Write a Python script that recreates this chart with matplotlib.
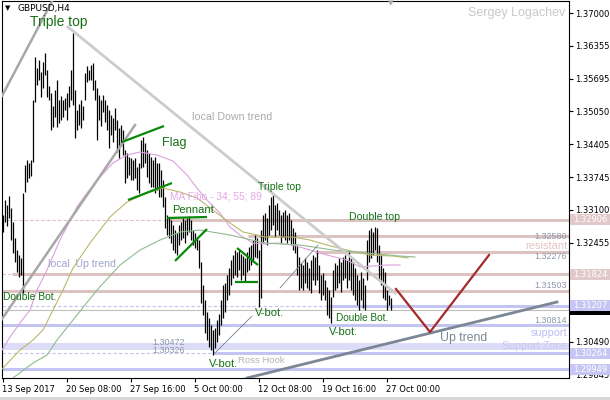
import matplotlib
matplotlib.use('Agg')
import matplotlib.pyplot as plt
from matplotlib.patches import Rectangle
from matplotlib.transforms import blended_transform_factory

plt.rcParams['font.family'] = ['Liberation Sans', 'DejaVu Sans']

# GBPUSD H4 bars, 13 Sep 2017 00:00 onwards (high / low)
high = [1.3300, 1.33297, 1.33198, 1.33376, 1.33139, 1.32861, 1.32545, 1.32307, 1.32208, 1.32149,
        1.33436, 1.3399, 1.34089, 1.3403, 1.34089, 1.35277, 1.36129, 1.35911, 1.36069, 1.35831,
        1.3603, 1.36208, 1.35871, 1.35554, 1.35416, 1.35158, 1.35475, 1.35673, 1.35277, 1.35356,
        1.35277, 1.35317, 1.35416, 1.35554, 1.35871, 1.3660, 1.35475, 1.35079, 1.35198, 1.35277,
        1.35158, 1.35812, 1.35951, 1.35871, 1.3597, 1.3601, 1.35673, 1.35515, 1.35376, 1.35277,
        1.35376, 1.35277, 1.35178, 1.35079, 1.3498, 1.34921, 1.35119, 1.34881, 1.34723, 1.34782,
        1.34683, 1.34287, 1.34228, 1.34149, 1.34129, 1.34089, 1.34129, 1.33951, 1.3403, 1.34485,
        1.34545, 1.34426, 1.34287, 1.34228, 1.34149, 1.34089, 1.34149, 1.3403, 1.3403, 1.33891,
        1.33693, 1.33357, 1.3300, 1.32941, 1.32901, 1.32802, 1.32703, 1.32644, 1.32802, 1.32861,
        1.32941, 1.32901, 1.32941, 1.3298, 1.32901, 1.32703, 1.32644, 1.32565, 1.32505, 1.32069,
        1.31614, 1.31317, 1.31079, 1.30961, 1.30822, 1.30723, 1.30763, 1.30921, 1.3104, 1.31317,
        1.31614, 1.31654, 1.31812, 1.31951, 1.32109, 1.32208, 1.32307, 1.32267, 1.32307, 1.32228,
        1.32188, 1.32149, 1.32267, 1.32367, 1.32406, 1.32505, 1.32604, 1.32545, 1.32307, 1.32703,
        1.3300, 1.3304, 1.32941, 1.33198, 1.33357, 1.33396, 1.33198, 1.33238, 1.33099, 1.3300,
        1.3306, 1.33099, 1.3300, 1.3304, 1.32901, 1.32743, 1.32664, 1.32406, 1.32169, 1.3205,
        1.3201, 1.32149, 1.32069, 1.31951, 1.32109, 1.32208, 1.32169, 1.32307, 1.3201, 1.31812,
        1.31852, 1.31713, 1.31575, 1.31515, 1.31377, 1.31911, 1.3205, 1.3201, 1.32149, 1.32069,
        1.32169, 1.32208, 1.32109, 1.32267, 1.32149, 1.32069, 1.31951, 1.31812, 1.31713, 1.31871,
        1.31753, 1.31614, 1.32505, 1.32703, 1.32743, 1.32664, 1.32763, 1.32743, 1.32406, 1.32208,
        1.31951, 1.31871, 1.31515, 1.31416, 1.31357]
low = [1.32663, 1.32861, 1.32782, 1.32941, 1.32505, 1.32248, 1.32069, 1.3187, 1.31773, 1.31812,
       1.31456, 1.33455, 1.33653, 1.33733, 1.33772, 1.3405, 1.35237, 1.35574, 1.35673, 1.35337,
       1.35515, 1.35772, 1.35337, 1.35277, 1.34683, 1.34743, 1.34941, 1.34743, 1.34822, 1.34881,
       1.34941, 1.35079, 1.34881, 1.35139, 1.35277, 1.35178, 1.34525, 1.34683, 1.34782, 1.34723,
       1.34881, 1.35277, 1.35634, 1.35673, 1.35673, 1.35475, 1.35277, 1.34485, 1.34881, 1.34762,
       1.3504, 1.34842, 1.34683, 1.34327, 1.34584, 1.34446, 1.34683, 1.34248, 1.34129, 1.34366,
       1.34188, 1.33634, 1.33733, 1.33792, 1.33693, 1.33693, 1.33733, 1.33495, 1.33436, 1.33931,
       1.33951, 1.3403, 1.33753, 1.33634, 1.33555, 1.33555, 1.33436, 1.33495, 1.33357, 1.33357,
       1.33159, 1.32743, 1.32604, 1.32545, 1.32446, 1.32307, 1.32248, 1.32208, 1.32406, 1.32505,
       1.32545, 1.32446, 1.32604, 1.32664, 1.32505, 1.32406, 1.32347, 1.32307, 1.3195, 1.31258,
       1.3102, 1.30664, 1.30525, 1.30387, 1.30327, 1.30228, 1.30367, 1.30486, 1.30624, 1.30822,
       1.30961, 1.31079, 1.31317, 1.31416, 1.31614, 1.31753, 1.31812, 1.31773, 1.31911, 1.31713,
       1.31812, 1.31674, 1.3187, 1.31911, 1.3201, 1.32069, 1.32169, 1.32149, 1.31179, 1.31357,
       1.32446, 1.32505, 1.32406, 1.32604, 1.32703, 1.32802, 1.32565, 1.32703, 1.32604, 1.32446,
       1.32565, 1.32505, 1.32446, 1.32505, 1.32406, 1.32307, 1.32248, 1.31812, 1.31515, 1.31555,
       1.31515, 1.31654, 1.31555, 1.31515, 1.31456, 1.31713, 1.31614, 1.31713, 1.31456, 1.31317,
       1.31416, 1.31317, 1.3102, 1.30961, 1.30862, 1.31377, 1.31515, 1.31555, 1.31654, 1.31476,
       1.31713, 1.31753, 1.31555, 1.31713, 1.31515, 1.31416, 1.31317, 1.31218, 1.31119, 1.31317,
       1.31159, 1.31119, 1.31713, 1.32069, 1.32149, 1.32208, 1.32307, 1.32069, 1.31713, 1.31614,
       1.31357, 1.31317, 1.31119, 1.31218, 1.31119]
bid = 1.31128

# moving averages (MA Fibo 34 / 55 / 89), read at sample bars
ma34_bar = [-0.25, 3.75, 8.75, 13.75, 17.25, 22.25, 28.75, 37.25, 42.25, 48.75, 55.25, 62.25, 68.75,
            77.25, 85.25, 92.25, 97.25, 102.25, 108.75, 113.75, 118.75, 125.25, 131.25, 137.25,
            145.25, 153.75, 162.25, 172.25, 178.75, 185.25, 192.25, 198.75]
ma34_val = [1.30327, 1.30585, 1.30862, 1.31119, 1.31515, 1.31911, 1.32505, 1.33159, 1.33436, 1.33753,
            1.3403, 1.34188, 1.34248, 1.34188, 1.34069, 1.33792, 1.33535, 1.33297, 1.3304, 1.32763,
            1.32604, 1.32446, 1.32426, 1.32446, 1.32406, 1.32307, 1.32208, 1.32109, 1.31971, 1.3199,
            1.3201, 1.3201]
ma55_bar = [-0.25, 8.75, 15.25, 20.25, 25.25, 30.25, 35.25, 43.75, 53.75, 62.25, 72.25, 80.25, 88.75,
            97.25, 105.25, 113.75, 120.25, 127.25, 131.25, 145.25, 153.75, 162.25, 172.25, 183.75,
            195.25, 202.75]
ma55_val = [1.29951, 1.30327, 1.30525, 1.30723, 1.31119, 1.31515, 1.31951, 1.32446, 1.32961, 1.33258,
            1.33436, 1.33535, 1.33455, 1.33337, 1.33099, 1.32842, 1.32664, 1.32604, 1.32565, 1.32565,
            1.32505, 1.32406, 1.32307, 1.32208, 1.32188, 1.32149]
ma89_bar = [-0.25, 5.25, 15.25, 22.25, 27.25, 35.25, 47.25, 58.75, 68.75, 78.75, 88.75, 98.75, 113.75,
            131.25, 148.75, 165.25, 182.25, 198.75, 206.25]
ma89_val = [1.29614, 1.29773, 1.3007, 1.30228, 1.30525, 1.30921, 1.31515, 1.3201, 1.32307, 1.32505,
            1.32664, 1.32703, 1.32604, 1.32446, 1.32406, 1.32307, 1.32248, 1.32188, 1.32169]

xtick_bars = [0, 32, 64, 96, 128, 160, 192]
xtick_labels = ['13 Sep 2017', '20 Sep 08:00', '27 Sep 16:00', '5 Oct 00:00',
                '12 Oct 08:00', '19 Oct 16:00', '27 Oct 00:00']
ytick_vals = [1.37000, 1.36355, 1.35695, 1.35050, 1.34405, 1.33745, 1.33100, 1.32455, 1.30490, 1.29845]

# horizontal levels
pink_levels = [1.32906, 1.32580, 1.32276, 1.31824, 1.31503]
pink_from = [82.25, 122.75, 156.25, 4.75, -0.25]
lav_levels = [1.31207, 1.30814, 1.30264, 1.29949]
lav_from = [162.75, -0.25, 105.25, -0.25]
dashed_pink = [1.32906, 1.31824]
dashed_lav = [1.31207, 1.30264]
zone = (1.30326, 1.30472)
box_levels = [1.32906, 1.31824, 1.31207, 1.30264, 1.29949]
box_colors = ['#E2C9C9', '#E2C9C9', '#C6C6F4', '#C6C6F4', '#C6C6F4']

PINK = '#DCC2C0'
LAV = '#C4C4F2'
GREEN = '#0A8A0A'
TXT_GREEN = '#147014'

fig = plt.figure(figsize=(6.1, 4), dpi=100)
ax = fig.add_axes([2 / 610, 22 / 400, 567 / 610, 377 / 400])
x0, x1 = -0.25, 283.25
ax.set_xlim(x0, x1)
ax.set_ylim(1.29773, 1.37238)

# levels (background)
for lv in dashed_pink:
    ax.hlines(lv, x0, x1, colors=PINK, lw=0.8, linestyles=(0, (3, 2)), zorder=1)
for lv in dashed_lav:
    ax.hlines(lv, x0, x1, colors=LAV, lw=0.8, linestyles=(0, (3, 2)), zorder=1)
for lv, st in zip(pink_levels, pink_from):
    ax.hlines(lv, st, x1, colors=PINK, lw=2.2, zorder=1)
for lv, st in zip(lav_levels, lav_from):
    ax.hlines(lv, st, x1, colors=LAV, lw=2.2, zorder=1)
ax.axhspan(zone[0], zone[1], color='#DCDCF8', lw=0, zorder=0.5)
ax.axhline(bid, color='#C0C0C0', lw=0.8, zorder=1)

# bars
idx = list(range(len(high)))
ax.vlines(idx, low, high, colors='black', lw=0.9, zorder=2)

# moving averages
ax.plot(ma34_bar, ma34_val, color='#DDA0DD', lw=0.8, zorder=3)
ax.plot(ma55_bar, ma55_val, color='#BDB76B', lw=0.8, zorder=3)
ax.plot(ma89_bar, ma89_val, color='#8FBC8F', lw=0.8, zorder=3)

# trend lines and patterns
ax.plot([-0.25, 25], [1.35357, 1.3725], color='#A8A8A8', lw=1.8, zorder=4)
ax.plot([-0.25, 66.25], [1.30941, 1.34782], color='#A8A8A8', lw=1.8, zorder=4)
ax.plot([32.75, 196.25], [1.36723, 1.31456], color='#CCCCCC', lw=2.0, zorder=4)
ax.plot([122.25, 277.25], [1.29773, 1.31278], color='#7B8794', lw=2.0, zorder=4)
ax.plot([196.75, 213.75, 243.25], [1.31535, 1.30684, 1.32208], color='#A52A2A', lw=1.6, zorder=4)
ax.plot([106.25, 124.75], [1.30268, 1.31001], color='#708090', lw=0.6, zorder=4)
ax.plot([138.75, 157.75], [1.31555, 1.32406], color='#708090', lw=0.6, zorder=4)
green_segs = [([59.75, 80.75], [1.34446, 1.34763]),
              ([62.75, 84.75], [1.33297, 1.33634]),
              ([82.25, 102.25], [1.32941, 1.32961]),
              ([86.25, 102.25], [1.3209, 1.32723]),
              ([117.25, 127.75], [1.32347, 1.3201]),
              ([116.25, 127.75], [1.31674, 1.31674])]
for xs, ys in green_segs:
    ax.plot(xs, ys, color=GREEN, lw=1.6, zorder=4, solid_capstyle='butt')

# pattern labels
labels = [('Triple top', 13.75, 1.36822, 10, TXT_GREEN),
          ('Flag', 79.75, 1.34426, 9, TXT_GREEN),
          ('Pennant', 84.75, 1.33099, 8, TXT_GREEN),
          ('Triple top', 127.75, 1.33555, 7.5, TXT_GREEN),
          ('Double top', 173.25, 1.32961, 7.6, TXT_GREEN),
          ('Double Bot.', 0.25, 1.31377, 7.4, TXT_GREEN),
          ('V-bot.', 126.25, 1.3106, 8, TXT_GREEN),
          ('Double Bot.', 166.75, 1.30961, 7.2, TXT_GREEN),
          ('V-bot.', 163.25, 1.30684, 8, TXT_GREEN),
          ('V-bot.', 103.0, 1.3005, 8.0, TXT_GREEN),
          ('MA Fibo - 34; 55; 89', 83.75, 1.33357, 7.3, '#E6A6E6'),
          ('local  Up trend', 22.75, 1.3203, 7.6, '#A0A4CC'),
          ('Ross Hook', 117.5, 1.3011, 6.8, '#B4B4B4'),
          ('local Down trend', 94.75, 1.34941, 7.7, '#ABABAB'),
          ('Up trend', 218.75, 1.30565, 8.8, '#7B8794')]
for s, bx, by, fs, c in labels:
    ax.text(bx, by, s, fontsize=fs, color=c, ha='left', va='center', zorder=5)

right_notes = [('1.32580', 1.32584, 6.4, '#8C98A8'),
               ('resistant', 1.32387, 8, '#E6C4C4'),
               ('1.32276', 1.32169, 6.4, '#8C98A8'),
               ('1.31503', 1.31595, 6.4, '#8C98A8'),
               ('1.30814', 1.30921, 6.4, '#8C98A8'),
               ('support', 1.30664, 7.8, '#BDBDF2'),
               ('Support Zone', 1.30406, 7.7, '#C8C8F0')]
for s, by, fs, c in right_notes:
    ax.text(282.25, by, s, fontsize=fs, color=c, ha='right', va='center', zorder=5)
ax.text(91.25, 1.30485, '1.30472', fontsize=6.4, color='#8C98A8', ha='right', va='center', zorder=5)
ax.text(91.25, 1.30327, '1.30326', fontsize=6.4, color='#8C98A8', ha='right', va='center', zorder=5)

# axes styling
for sp in ax.spines.values():
    sp.set_color('black')
    sp.set_linewidth(0.8)
ax.yaxis.tick_right()
ax.set_yticks(ytick_vals)
ax.set_yticklabels(['%.5f' % v for v in ytick_vals])
ax.set_xticks(xtick_bars)
ax.set_xticklabels(xtick_labels, ha='left')
ax.tick_params(axis='y', direction='out', length=3, pad=1.5, labelsize=6, width=0.8)
ax.tick_params(axis='x', direction='out', length=3, pad=2, labelsize=6, width=0.8)
for lbl in ax.get_yticklabels() + ax.get_xticklabels():
    lbl.set_family('DejaVu Sans')

# price boxes on the right scale (current price box sits mostly under the 1.31207 box)
bt = blended_transform_factory(fig.transFigure, ax.transData)
bh = 11 * 0.000198
ax.add_patch(Rectangle((570 / 610, bid - bh / 2), 40 / 610, bh, transform=bt,
                       fc='black', ec='none', clip_on=False, zorder=8))
for lv, c in zip(box_levels, box_colors):
    ax.add_patch(Rectangle((570 / 610, lv - bh / 2), 40 / 610, bh, transform=bt,
                           fc=c, ec='none', clip_on=False, zorder=9))
    ax.text(573 / 610, lv, '%.5f' % lv, transform=bt, fontsize=6, color='white',
            va='center', ha='left', family='DejaVu Sans', clip_on=False, zorder=9.5)

# header and signature
fig.text(5 / 610, 1 - 8.5 / 400, '\u25bc', fontsize=5, va='center', family='DejaVu Sans')
fig.text(17 / 610, 1 - 8 / 400, 'GBPUSD,H4', fontsize=6.5, va='center', family='DejaVu Sans')
fig.text(391 / 610, 1 - 3.5 / 400, '\u25bc', fontsize=5, color='#A8A8A8', ha='center', va='center',
         family='DejaVu Sans')
fig.text(565 / 610, 1 - 13 / 400, 'Sergey Logachev', fontsize=9, color='#C8C8C8', ha='right', va='center')
fig.patches.append(Rectangle((0, 0), 1, 3 / 400, transform=fig.transFigure, fc='#D8D8D8', ec='none'))

fig.savefig('out.png', dpi=100)
